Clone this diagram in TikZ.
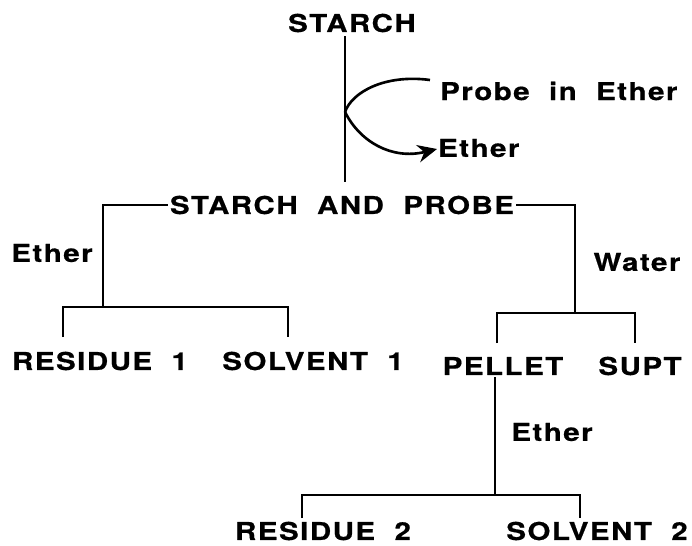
\documentclass[tikz,border=0pt]{standalone}
\usepackage{fontspec}
\setmainfont{TeX Gyre Heros}[FakeStretch=1.2, LetterSpace=6, WordSpace=2, BoldFeatures={FakeBold=0.6}]
\usetikzlibrary{arrows.meta}

\begin{document}
\begin{tikzpicture}[x=0.02cm, y=-0.02cm,
    lbl/.style={font=\bfseries\fontsize{14pt}{16pt}\selectfont, inner sep=1pt},
    ln/.style={line width=1.5pt}]

    \useasboundingbox (0,0) rectangle (692,545);

    \node[lbl] (S0) at (352,23) {STARCH};
    \node[lbl] (SP) at (342,205) {STARCH AND PROBE};
    \node[lbl, anchor=west] (PE) at (438,91) {Probe in Ether};
    \node[lbl, anchor=west] (E0) at (436,148) {Ether};

    \node[lbl] (E1) at (52,253) {Ether};
    \node[lbl] (W) at (637,262) {Water};

    \node[lbl] (R1) at (100,361) {RESIDUE 1};
    \node[lbl] (S1) at (313,361) {SOLVENT 1};
    \node[lbl] (P) at (503,366) {PELLET};
    \node[lbl] (SU) at (640,366) {SUPT};

    \node[lbl] (E2) at (552,432) {Ether};

    \node[lbl] (R2) at (323,531) {RESIDUE 2};
    \node[lbl] (S2) at (597,531) {SOLVENT 2};

    % main stem and the wash loop
    \coordinate (K) at (345,112);
    \coordinate (Kin) at (430,80);
    \coordinate (Kout) at (437,149);
    \draw[ln] (S0.south -| K) ++(0,2) -- (345,182);
    \draw[ln] (Kin) .. controls (385,74) and (352,92) .. (K);
    \draw[ln, -{Stealth[length=11pt, width=10pt]}] (K) .. controls (360,142) and (392,160) .. (Kout);

    % ether branch
    \coordinate (L2) at (103,307);
    \draw[ln] (SP.west) -- (SP.west -| L2) -- (L2);
    \draw[ln] (63,337) -- (63,307) -- (288,307) -- (288,337);

    % water branch
    \coordinate (M2) at (575,313);
    \draw[ln] (SP.east) -- (SP.east -| M2) -- (M2);
    \draw[ln] (497,343) -- (497,313) -- (635,313) -- (635,343);

    % pellet in ether
    \coordinate (N1) at (495,495);
    \draw[ln] (P.south -| N1) -- (N1);
    \draw[ln] (302,518) -- (302,495) -- (580,495) -- (580,518);
\end{tikzpicture}
\end{document}
